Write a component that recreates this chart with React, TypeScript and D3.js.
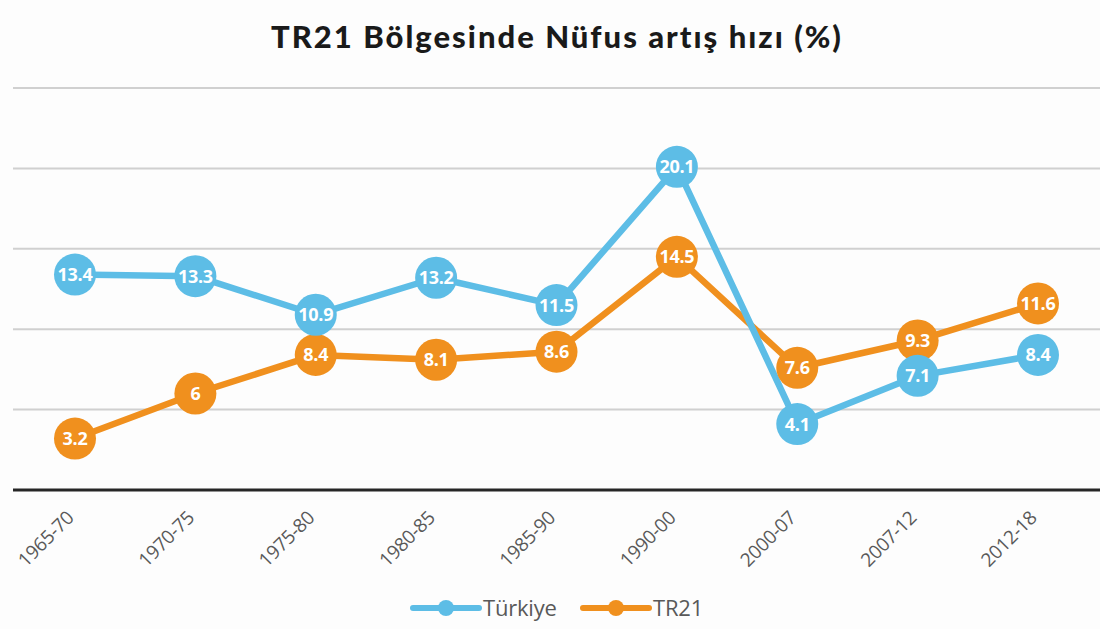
import React from "react";
import * as d3 from "d3";

const periods = ["1965-70", "1970-75", "1975-80", "1980-85", "1985-90", "1990-00", "2000-07", "2007-12", "2012-18"];
const turkiye = [13.4, 13.3, 10.9, 13.2, 11.5, 20.1, 4.1, 7.1, 8.4];
const tr21 = [3.2, 6, 8.4, 8.1, 8.6, 14.5, 7.6, 9.3, 11.6];
const gridValues = [5, 10, 15, 20, 25];

const W = 1100;
const H = 629;
const BLUE = "#5DBDE6";
const ORANGE = "#F0901E";

export default function App() {
  const x = d3.scalePoint<string>().domain(periods).range([75, 1038]);
  const y = d3.scaleLinear().domain([0, 25]).range([490, 88]);

  const line = d3
    .line<number>()
    .x((_, i) => x(periods[i]) as number)
    .y((d) => y(d));

  const series = [
    { name: "Türkiye", values: turkiye, color: BLUE },
    { name: "TR21", values: tr21, color: ORANGE },
  ];

  // orange drawn first so the blue line sits on top where they cross
  const drawOrder = [series[1], series[0]];

  return (
    <svg width={W} height={H} style={{ display: "block", position: "absolute", left: 0, top: 0 }}>
      <rect width={W} height={H} fill="#fdfdfd" />
      <text
        x={557}
        y={48}
        textAnchor="middle"
        fontFamily="Lato, 'Open Sans', sans-serif"
        fontWeight={900}
        fontSize={31}
        letterSpacing={2}
        fill="#1a1a1a"
      >
        TR21 Bölgesinde Nüfus artış hızı (%)
      </text>

      {gridValues.map((v) => (
        <line key={v} x1={13} x2={W} y1={y(v)} y2={y(v)} stroke="#d0d0d0" strokeWidth={2} />
      ))}
      <line x1={13} x2={W} y1={y(0)} y2={y(0)} stroke="#262626" strokeWidth={3} />

      {periods.map((p) => (
        <text
          key={p}
          transform={`translate(${(x(p) as number) + 0},${519}) rotate(-45)`}
          textAnchor="end"
          fontFamily="'Open Sans', 'Liberation Sans', sans-serif"
          fontSize={19}
          letterSpacing={-0.3}
          fill="#595959"
        >
          {p}
        </text>
      ))}

      {drawOrder.map((s) => (
        <path key={s.name} d={line(s.values) ?? ""} fill="none" stroke={s.color} strokeWidth={6.5} strokeLinejoin="round" />
      ))}
      {drawOrder.map((s) =>
        s.values.map((v, i) => (
          <g key={s.name + i} transform={`translate(${x(periods[i])},${y(v)})`}>
            <circle r={21} fill={s.color} />
            <text
              textAnchor="middle"
              dy="0.36em"
              fontFamily="'Open Sans', 'Liberation Sans', sans-serif"
              fontWeight={700}
              fontSize={18}
              letterSpacing={-0.3}
              fill="#fff"
            >
              {v}
            </text>
          </g>
        ))
      )}

      {series.map((s, i) => {
        const lx = i === 0 ? 413 : 583;
        return (
          <g key={s.name}>
            <line x1={lx} x2={lx + 66} y1={608} y2={608} stroke={s.color} strokeWidth={6} strokeLinecap="round" />
            <circle cx={lx + 33} cy={608} r={8} fill={s.color} />
            <text
              x={lx + 70}
              y={616}
              fontFamily="'Open Sans', 'Liberation Sans', sans-serif"
              fontSize={22}
              letterSpacing={-0.2}
              fill="#595959"
            >
              {s.name}
            </text>
          </g>
        );
      })}
    </svg>
  );
}
